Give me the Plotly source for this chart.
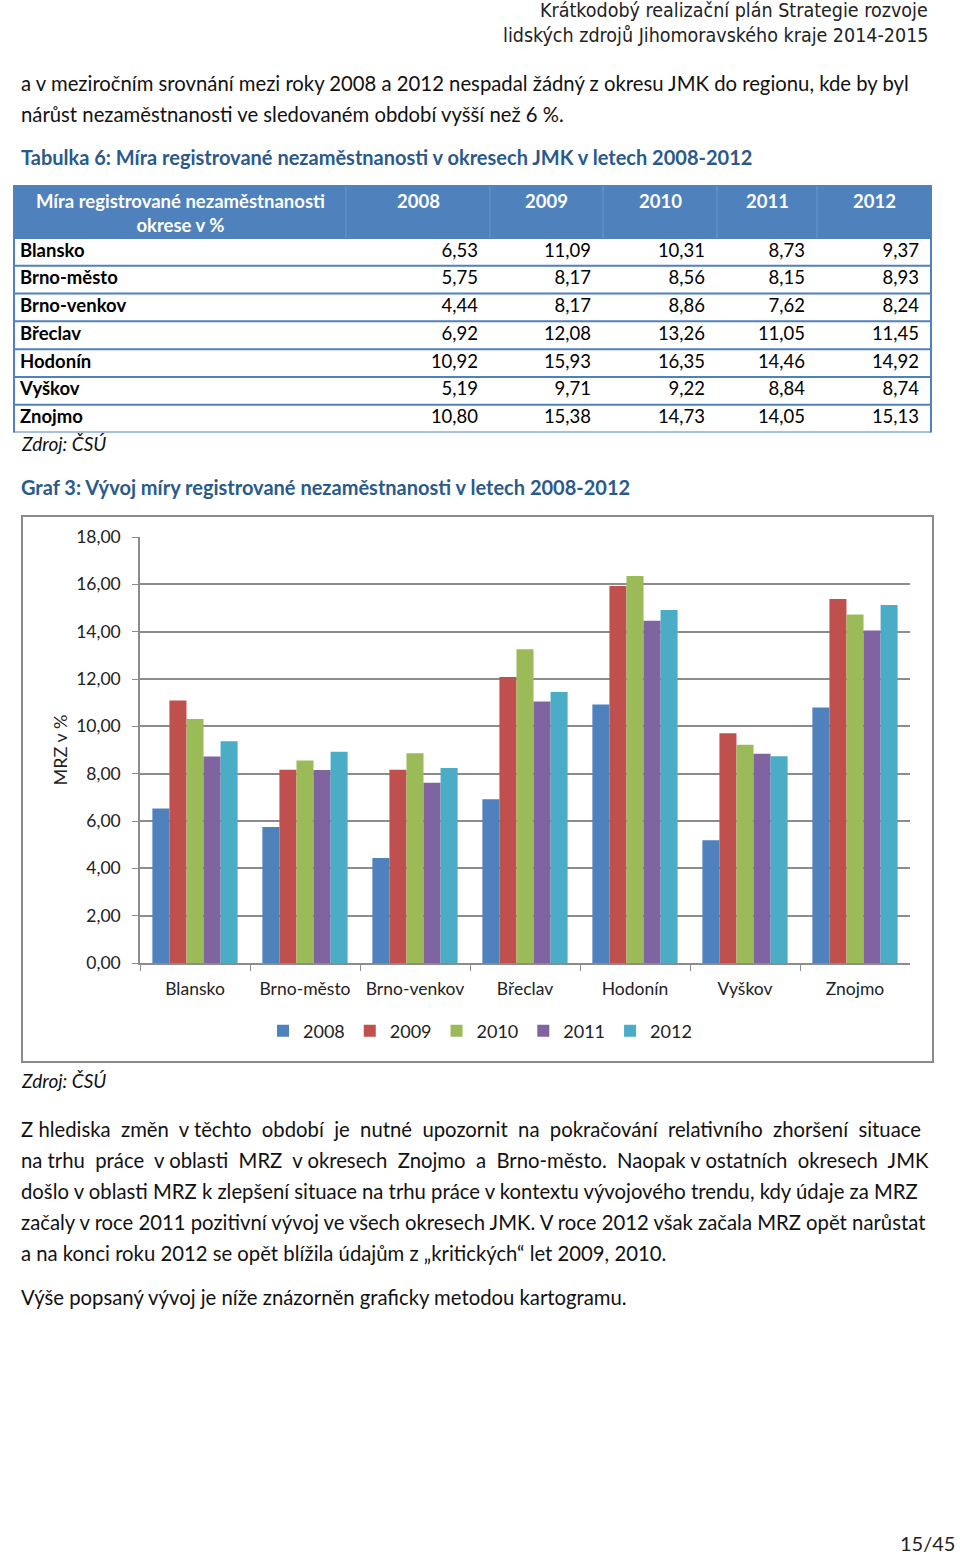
import plotly.graph_objects as go

W, H = 960, 1557

def px(x):
    return x / W

def py(y):
    return 1 - y / H

# ---------------- data ----------------
districts = ["Blansko", "Brno-město", "Brno-venkov", "Břeclav", "Hodonín", "Vyškov", "Znojmo"]
years = ["2008", "2009", "2010", "2011", "2012"]
v2008 = [6.53, 5.75, 4.44, 6.92, 10.92, 5.19, 10.80]
v2009 = [11.09, 8.17, 8.17, 12.08, 15.93, 9.71, 15.38]
v2010 = [10.31, 8.56, 8.86, 13.26, 16.35, 9.22, 14.73]
v2011 = [8.73, 8.15, 7.62, 11.05, 14.46, 8.84, 14.05]
v2012 = [9.37, 8.93, 8.24, 11.45, 14.92, 8.74, 15.13]
series = [v2008, v2009, v2010, v2011, v2012]
colors = ["#4F81BD", "#C0504D", "#9BBB59", "#8064A2", "#4BACC6"]
y_ticks = [0, 2, 4, 6, 8, 10, 12, 14, 16, 18]

header_lines = ["Krátkodobý realizační plán Strategie rozvoje",
                "lidských zdrojů Jihomoravského kraje 2014-2015"]
intro_lines = ["a v meziročním srovnání mezi roky 2008 a 2012 nespadal žádný z okresu JMK do regionu, kde by byl",
               "nárůst nezaměstnanosti ve sledovaném období vyšší než 6 %."]
table_title = "Tabulka 6: Míra registrované nezaměstnanosti v okresech JMK v letech 2008-2012"
table_head = "Míra registrované nezaměstnanosti<br>okrese v %"
chart_title = "Graf 3: Vývoj míry registrované nezaměstnanosti v letech 2008-2012"
y_title = "MRZ v %"
source = "Zdroj: ČSÚ"
para_lines = ["Z hlediska  změn  v těchto  období  je  nutné  upozornit  na  pokračování  relativního  zhoršení  situace",
              "na trhu  práce  v oblasti  MRZ  v okresech  Znojmo  a  Brno-město.  Naopak v ostatních  okresech  JMK",
              "došlo v oblasti MRZ k zlepšení situace na trhu práce v kontextu vývojového trendu, kdy údaje za MRZ",
              "začaly v roce 2011 pozitivní vývoj ve všech okresech JMK. V roce 2012 však začala MRZ opět narůstat",
              "a na konci roku 2012 se opět blížila údajům z „kritických“ let 2009, 2010."]
last_line = "Výše popsaný vývoj je níže znázorněn graficky metodou kartogramu."
page_no = "15/45"

BODY = "Lato, Carlito, Calibri, sans-serif"
NARROW = "Liberation Sans Narrow, Arial Narrow, DejaVu Sans Condensed, sans-serif"
TITLE_BLUE = "#2A5A8C"
TBL_BLUE = "#4F81BD"

# table layout (pixels)
col_edges = [14, 346, 490, 603, 717, 817, 931]
TBL_TOP, HEAD_BOT, TBL_BOT = 186, 238, 432.5

fig = go.Figure()

# ---------------- bars ----------------
for yr, vals, c in zip(years, series, colors):
    fig.add_trace(go.Bar(name=yr, x=districts, y=vals, xaxis="x", yaxis="y",
                         marker=dict(color=c, line=dict(width=0))))

# ---------------- table body (text on hidden axes) ----------------
def fmt(v):
    return f"{v:.2f}".replace(".", ",")

fig.add_trace(go.Scatter(x=[col_edges[0] + 6] * len(districts), y=districts, xaxis="x2", yaxis="y2",
                         mode="text", text=["<b>" + d + "</b>" for d in districts],
                         textposition="middle right", showlegend=False, hoverinfo="skip",
                         textfont=dict(family=BODY, size=18.5, color="black")))
for j, s in enumerate(series):
    fig.add_trace(go.Scatter(x=[col_edges[j + 2] - 12] * len(districts), y=districts, xaxis="x2", yaxis="y2",
                             mode="text", text=[fmt(v) for v in s],
                             textposition="middle left", showlegend=False, hoverinfo="skip",
                             textfont=dict(family=BODY, size=18.5, color="black")))

fig.update_layout(
    width=W, height=H,
    margin=dict(l=0, r=0, t=0, b=0, pad=0, autoexpand=False),
    paper_bgcolor="white", plot_bgcolor="rgba(0,0,0,0)",
    separators=", ",
    barmode="group", bargap=0.225, bargroupgap=0,
    font=dict(family=BODY, size=18, color="#222"),
    xaxis=dict(domain=[px(140), px(910)], anchor="y", automargin=False,
               showline=True, linecolor="#8C8C8C", linewidth=1.5,
               ticks="outside", tickson="boundaries", ticklen=6, tickcolor="#8C8C8C",
               tickangle=0, ticklabelstandoff=9,
               tickfont=dict(family=BODY, size=17.5, color="#222"),
               showgrid=False),
    yaxis=dict(domain=[py(963), py(537)], anchor="x", automargin=False,
               range=[0, 18], tickvals=y_ticks, tickformat=".2f",
               showline=True, linecolor="#8C8C8C", linewidth=1.5,
               ticks="outside", ticklen=6, tickcolor="#8C8C8C", ticklabelstandoff=8,
               showgrid=True, gridcolor="#8C8C8C", gridwidth=1.5, zeroline=False,
               tickfont=dict(family=BODY, size=17.5, color="#222"),
               title=dict(text=y_title, font=dict(family=BODY, size=18, color="#222"), standoff=4)),
    xaxis2=dict(domain=[px(col_edges[0]), px(col_edges[-1])], anchor="y2", automargin=False,
                range=[col_edges[0], col_edges[-1]], visible=False, fixedrange=True),
    yaxis2=dict(domain=[py(TBL_BOT), py(HEAD_BOT)], anchor="x2", type="category", automargin=False,
                categoryorder="array", categoryarray=districts,
                range=[len(districts) - 0.5, -0.5], visible=False, fixedrange=True),
    legend=dict(orientation="h", x=0.5, xanchor="center", y=py(1031), yanchor="middle",
                font=dict(family=BODY, size=18, color="#222"), itemwidth=30, traceorder="normal"),
    showlegend=True,
)

shapes = []
# chart frame
shapes.append(dict(type="rect", xref="paper", yref="paper", x0=px(22), x1=px(933), y0=py(1062), y1=py(516),
                   line=dict(color="#8A8A8A", width=2), layer="below"))
# table header fill + separators
shapes.append(dict(type="rect", xref="paper", yref="paper", x0=px(col_edges[0]), x1=px(col_edges[-1]),
                   y0=py(HEAD_BOT), y1=py(TBL_TOP), fillcolor=TBL_BLUE, line=dict(color=TBL_BLUE, width=2),
                   layer="below"))
for xe in col_edges[1:-1]:
    shapes.append(dict(type="line", xref="paper", yref="paper", x0=px(xe), x1=px(xe), y0=py(HEAD_BOT), y1=py(TBL_TOP),
                       line=dict(color="#6C97CC", width=1), layer="below"))
# table row rules
for i in range(len(districts)):
    shapes.append(dict(type="line", xref="x2", yref="y2", x0=col_edges[0], x1=col_edges[-1],
                       y0=i + 0.5, y1=i + 0.5, line=dict(color=TBL_BLUE, width=2), layer="below"))
# table outer sides
for xe in (col_edges[0], col_edges[-1]):
    shapes.append(dict(type="line", xref="paper", yref="paper", x0=px(xe), x1=px(xe), y0=py(TBL_TOP), y1=py(TBL_BOT),
                       line=dict(color=TBL_BLUE, width=2), layer="below"))
fig.update_layout(shapes=shapes)

ann = []
def text(x, y, s, size=20.3, color="#111", family=BODY, xanchor="left", yanchor="middle", align="left"):
    ann.append(dict(x=px(x), y=py(y), xref="paper", yref="paper", text=s, showarrow=False, align=align,
                    xanchor=xanchor, yanchor=yanchor, font=dict(family=family, size=size, color=color)))

text(930, 10, header_lines[0], size=19.5, color="#222", family=NARROW, xanchor="right")
text(930, 36, header_lines[1], size=19.5, color="#222", family=NARROW, xanchor="right")
for i, s in enumerate(intro_lines):
    text(19, 83 + 31 * i, s)
text(19, 157, "<b>" + table_title + "</b>", size=20, color=TITLE_BLUE)
# table header texts
text((col_edges[0] + col_edges[1]) / 2, 213, "<b>" + table_head + "</b>", size=18.5, color="white",
     xanchor="center", align="center")
for j, yr in enumerate(years):
    text((col_edges[j + 1] + col_edges[j + 2]) / 2, 201, "<b>" + yr + "</b>", size=18.5, color="white",
         xanchor="center")
text(19, 444, "<i>" + source + "</i>", size=19)
text(19, 487, "<b>" + chart_title + "</b>", size=20, color=TITLE_BLUE)
text(19, 1080, "<i>" + source + "</i>", size=19)
for i, s in enumerate(para_lines):
    text(19, 1129 + 31 * i, s)
text(19, 1297, last_line)
text(957, 1543, page_no, size=20, color="#222", xanchor="right")
fig.update_layout(annotations=ann)

fig.write_html("out.html", config={"displayModeBar": False},
               post_script="document.body.style.margin='0';document.body.style.overflow='hidden';")
